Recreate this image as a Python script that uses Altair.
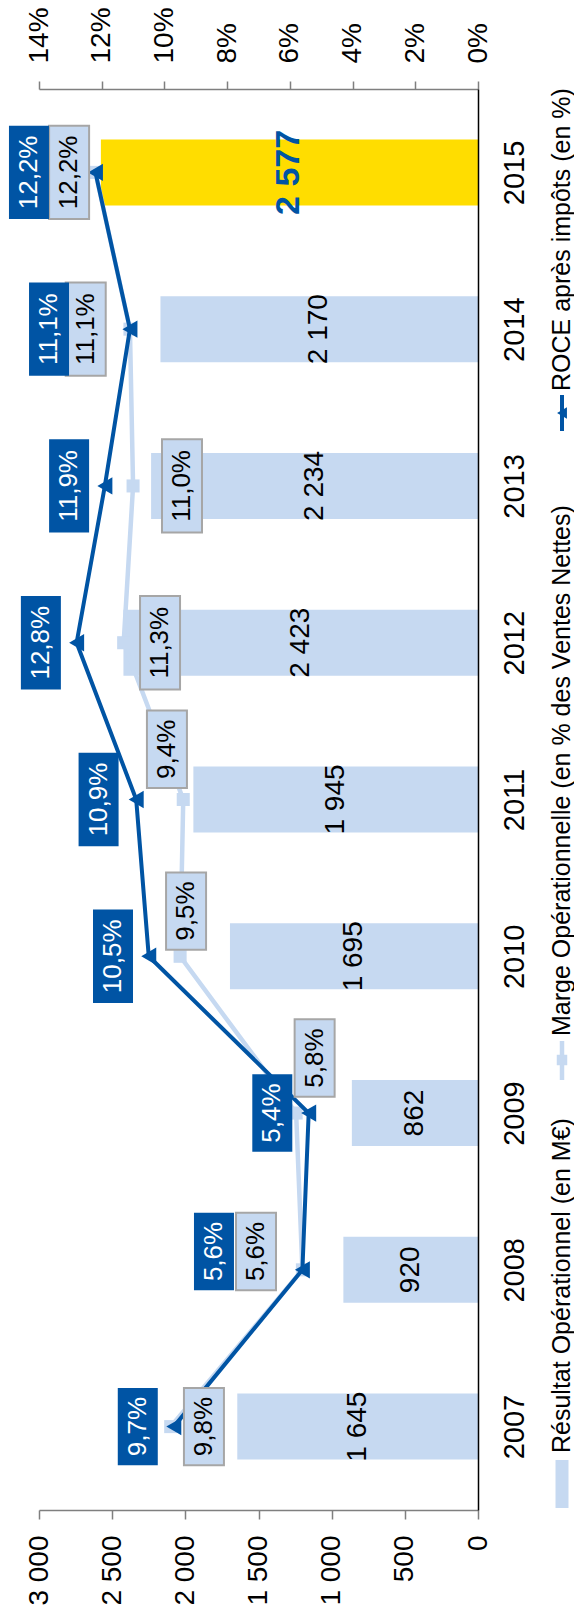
import altair as alt
import pandas as pd

# ---------------- data ----------------
years = [2007, 2008, 2009, 2010, 2011, 2012, 2013, 2014, 2015]
resultat = [1645, 920, 862, 1695, 1945, 2423, 2234, 2170, 2577]          # M€
marge = [9.8, 5.6, 5.8, 9.5, 9.4, 11.3, 11.0, 11.1, 12.2]                # %
roce = [9.7, 5.6, 5.4, 10.5, 10.9, 12.8, 11.9, 11.1, 12.2]               # %
resultat_labels = ["1 645", "920", "862", "1 695", "1 945", "2 423", "2 234", "2 170", "2 577"]
marge_labels = ["9,8%", "5,6%", "5,8%", "9,5%", "9,4%", "11,3%", "11,0%", "11,1%", "12,2%"]
roce_labels = ["9,7%", "5,6%", "5,4%", "10,5%", "10,9%", "12,8%", "11,9%", "11,1%", "12,2%"]
highlight_year = 2015

legend_labels = ["Résultat Opérationnel (en M€)",
                 "Marge Opérationnelle (en % des Ventes Nettes)",
                 "ROCE après impôts (en %)"]
left_ticks = [0, 500, 1000, 1500, 2000, 2500, 3000]
right_ticks = [0, 2, 4, 6, 8, 10, 12, 14]

# ---------------- styling / label placement ----------------
FONT = "Liberation Sans"
DARK = "#0054A4"
LIGHT = "#C6D9F1"
YELLOW = "#FFDD00"
GRAY = "#7F7F7F"
BORDER = "#A6A6A6"

W, H = 439, 1421
PX_PER_PCT = W / 14.0
PX_PER_YEAR = H / 9.0

# label offsets from their point (in % along value axis, in years along category axis)
roce_lab_dx = [1.15, 2.82, 1.16, 1.14, 1.20, 1.14, 1.14, 2.58, 2.12]
roce_lab_dy = [0, 0.117, 0, 0, 0, 0, 0, 0, 0]
marge_lab_dx = [-1.06, 1.48, -0.59, -0.19, 0.52, -1.16, -1.56, 1.41, 0.84]
marge_lab_dy = [0, 0.117, 0.351, 0.288, 0.32, 0, 0, 0, 0]

BOX_HALF_W = 20 / PX_PER_PCT


def box_half_len(lbl):
    return (78 if len(lbl) <= 4 else 94) / PX_PER_YEAR / 2


df = pd.DataFrame({
    "year": years,
    "resultat": resultat,
    "mid": [v / 2 for v in resultat],
    "res_label": resultat_labels,
    "bar_color": [YELLOW if y == highlight_year else LIGHT for y in years],
    "marge": marge,
    "roce": roce,
})

lab_rows = []
for i, y in enumerate(years):
    for serie, vals, labs, dx, dy in (("marge", marge, marge_labels, marge_lab_dx, marge_lab_dy),
                                      ("roce", roce, roce_labels, roce_lab_dx, roce_lab_dy)):
        cx = vals[i] + dx[i]
        cy = y + dy[i]
        hl = box_half_len(labs[i])
        lab_rows.append({"serie": serie, "label": labs[i], "cx": cx, "cy": cy,
                         "x1": cx - BOX_HALF_W, "x2": cx + BOX_HALF_W,
                         "y1": cy - hl, "y2": cy + hl})
labs_df = pd.DataFrame(lab_rows)
marge_lab = labs_df[labs_df.serie == "marge"]
roce_lab = labs_df[labs_df.serie == "roce"]


def bar_scale():
    return alt.Scale(domain=[0, 3000], reverse=True, nice=False, zero=True)


def pct_scale():
    return alt.Scale(domain=[0, 14], reverse=True, nice=False, zero=True)


y_scale = alt.Scale(domain=[2006.5, 2015.5], nice=False, zero=False)

bottom_axis = alt.Axis(orient="bottom", values=left_ticks, title=None, grid=False,
                       labelExpr="replace(format(datum.value, ','), ',', ' ')",
                       labelAngle=270, labelAlign="right", labelBaseline="middle",
                       labelFontSize=28, labelFont=FONT, labelColor="black",
                       labelPadding=16, tickSize=9, tickColor=GRAY, tickWidth=1.5,
                       domainColor=GRAY, domainWidth=1.5, zindex=1)
top_axis = alt.Axis(orient="top", values=right_ticks, title=None, grid=False,
                    labelExpr="datum.value + '%'",
                    labelAngle=270, labelAlign="left", labelBaseline="middle",
                    labelFontSize=28, labelFont=FONT, labelColor="black",
                    labelPadding=18, tickSize=8, tickColor=GRAY, tickWidth=1.5,
                    domainColor=GRAY, domainWidth=1.5, zindex=1)
year_axis = alt.Axis(orient="right", values=years, format="d", title=None, grid=False,
                     labelAngle=270, labelAlign="center", labelBaseline="top",
                     labelFontSize=29, labelFont=FONT, labelColor="black",
                     labelPadding=22, ticks=False,
                     domainColor="black", domainWidth=1.5, zindex=1)


def Y(field):
    # same axis definition in every layer so the shared axis merges cleanly
    return alt.Y(field, scale=y_scale, axis=year_axis)


base = alt.Chart(df)

bars = base.mark_bar(size=66, orient="horizontal").encode(
    x=alt.X("resultat:Q", scale=bar_scale(), axis=bottom_axis),
    y=Y("year:Q"),
    color=alt.Color("bar_color:N", scale=None),
)
bar_text = base.transform_filter(f"datum.year != {highlight_year}").mark_text(
    angle=270, align="center", baseline="middle", fontSize=28, font=FONT, color="black"
).encode(
    x=alt.X("mid:Q", scale=bar_scale(), axis=None),
    y=Y("year:Q"),
    text="res_label:N",
)
bar_text_hl = base.transform_filter(f"datum.year == {highlight_year}").mark_text(
    angle=270, align="center", baseline="middle", fontSize=34, font=FONT,
    fontWeight="bold", color=DARK
).encode(
    x=alt.X("mid:Q", scale=bar_scale(), axis=None),
    y=Y("year:Q"),
    text="res_label:N",
)

marge_line = base.mark_line(color=LIGHT, strokeWidth=4.5).encode(
    x=alt.X("marge:Q", scale=pct_scale(), axis=top_axis),
    y=Y("year:Q"),
    order="year:Q",
)
marge_pts = base.mark_point(shape="square", filled=True, size=170, color=LIGHT, opacity=1).encode(
    x=alt.X("marge:Q", scale=pct_scale(), axis=None),
    y=Y("year:Q"),
)
roce_line = base.mark_line(color=DARK, strokeWidth=4).encode(
    x=alt.X("roce:Q", scale=pct_scale(), axis=None),
    y=Y("year:Q"),
    order="year:Q",
)
roce_pts = base.mark_point(shape="triangle-left", filled=True, size=300, color=DARK, opacity=1).encode(
    x=alt.X("roce:Q", scale=pct_scale(), axis=None),
    y=Y("year:Q"),
)

marge_box = alt.Chart(marge_lab).mark_rect(fill=LIGHT, stroke=BORDER, strokeWidth=2).encode(
    x=alt.X("x1:Q", scale=pct_scale(), axis=None), x2="x2:Q",
    y=Y("y1:Q"), y2="y2:Q",
)
marge_txt = alt.Chart(marge_lab).mark_text(
    angle=270, align="center", baseline="middle", fontSize=26, font=FONT, color="black"
).encode(
    x=alt.X("cx:Q", scale=pct_scale(), axis=None),
    y=Y("cy:Q"),
    text="label:N",
)
roce_box = alt.Chart(roce_lab).mark_rect(fill=DARK).encode(
    x=alt.X("x1:Q", scale=pct_scale(), axis=None), x2="x2:Q",
    y=Y("y1:Q"), y2="y2:Q",
)
roce_txt = alt.Chart(roce_lab).mark_text(
    angle=270, align="center", baseline="middle", fontSize=26, font=FONT, color="white"
).encode(
    x=alt.X("cx:Q", scale=pct_scale(), axis=None),
    y=Y("cy:Q"),
    text="label:N",
)

# ---------------- legend (drawn manually, rotated) ----------------
one = pd.DataFrame({"k": [0]})
LEG_X = 523
leg_sw = alt.Chart(one).mark_rect(color=LIGHT).encode(
    x=alt.value(LEG_X - 6.5), x2=alt.value(LEG_X + 6.5),
    y=alt.value(1371), y2=alt.value(1419))
leg_t1 = alt.Chart(one).mark_text(angle=270, align="left", baseline="middle",
                                  fontSize=25, font=FONT, color="black").encode(
    x=alt.value(LEG_X), y=alt.value(1364), text=alt.value(legend_labels[0]))
leg_l2 = alt.Chart(one).mark_rule(color=LIGHT, strokeWidth=4.5).encode(
    x=alt.value(LEG_X), y=alt.value(952), y2=alt.value(991))
leg_p2 = alt.Chart(one).mark_point(shape="square", filled=True, size=110, color=LIGHT, opacity=1).encode(
    x=alt.value(LEG_X), y=alt.value(971))
leg_t2 = alt.Chart(one).mark_text(angle=270, align="left", baseline="middle",
                                  fontSize=25, font=FONT, color="black").encode(
    x=alt.value(LEG_X), y=alt.value(947), text=alt.value(legend_labels[1]))
leg_l3 = alt.Chart(one).mark_rule(color=DARK, strokeWidth=4).encode(
    x=alt.value(LEG_X), y=alt.value(306), y2=alt.value(342))
leg_p3 = alt.Chart(one).mark_point(shape="triangle-left", filled=True, size=130, color=DARK, opacity=1).encode(
    x=alt.value(LEG_X), y=alt.value(324))
leg_t3 = alt.Chart(one).mark_text(angle=270, align="left", baseline="middle",
                                  fontSize=25, font=FONT, color="black").encode(
    x=alt.value(LEG_X), y=alt.value(302), text=alt.value(legend_labels[2]))

chart = alt.layer(
    bars, bar_text, bar_text_hl,
    marge_line, marge_pts, roce_line, roce_pts,
    marge_box, marge_txt, roce_box, roce_txt,
    leg_sw, leg_t1, leg_l2, leg_p2, leg_t2, leg_l3, leg_p3, leg_t3,
).resolve_scale(x="independent").properties(
    width=W, height=H,
    autosize=alt.AutoSizeParams(type="none"),
    padding={"left": 31, "top": 81, "right": 96, "bottom": 100},
).configure(font=FONT).configure_view(stroke=None)

chart.save("out.html", embed_options={"renderer": "svg", "actions": False})
